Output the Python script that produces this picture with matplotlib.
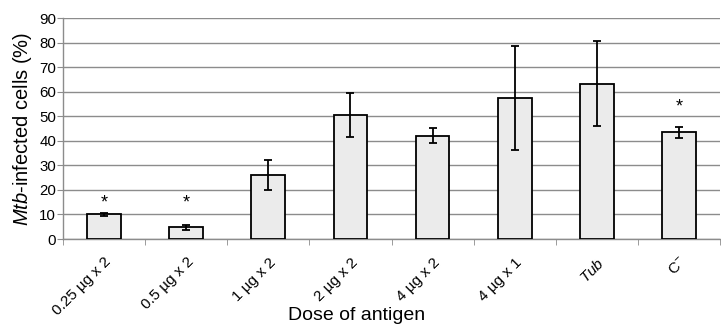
import matplotlib
matplotlib.use('Agg')

import matplotlib.pyplot as plt
import numpy as np

plt.rcParams['font.family'] = ['Liberation Sans', 'DejaVu Sans']
plt.rcParams['mathtext.fontset'] = 'custom'
plt.rcParams['mathtext.rm'] = 'Liberation Sans'
plt.rcParams['mathtext.it'] = 'Liberation Sans:italic'

# Dados
doses = ['0.25 µg x 2', '0.5 µg x 2', '1 µg x 2', '2 µg x 2',
         '4 µg x 2', '4 µg x 1', '$\\mathit{Tub}$', 'C$^{-}$']
infectadas = [10.0, 4.8, 26.2, 50.5, 42.1, 57.4, 63.3, 43.4]
erros = [0.5, 1.0, 6.1, 9.0, 3.0, 21.2, 17.3, 2.3]
significativo = [True, True, False, False, False, False, False, True]
pos_asterisco = [14.6, 14.6, None, None, None, None, None, 53.7]

fig = plt.figure(figsize=(7.21, 3.25), dpi=100)
ax = fig.add_axes([0.0874, 0.2646, 0.9112, 0.68])

x = np.arange(len(doses))
ax.bar(x, infectadas, 0.41, color='#ebebeb', edgecolor='black', linewidth=1.3,
       yerr=erros, capsize=3, error_kw=dict(elinewidth=1.3, capthick=1.3, ecolor='black'),
       zorder=3)

for xi, sig, ya in zip(x, significativo, pos_asterisco):
    if sig:
        ax.text(xi, ya, '*', ha='center', va='center', fontsize=13, zorder=4)

ax.set_xlim(-0.5, len(doses) - 0.5)
ax.set_ylim(0, 90)
ax.set_yticks(np.arange(0, 91, 10))
ax.yaxis.grid(True, color='#8c8c8c', linewidth=1.0, zorder=0)

# Rótulos do eixo x (inclinados, ancorados no canto superior direito)
ax.set_xticks(x)
ax.set_xticklabels(doses, rotation=45, ha='right', va='top',
                   rotation_mode='anchor', fontsize=11)
ax.tick_params(axis='x', length=0, pad=11.5)
ax.set_xticks(np.arange(-0.5, len(doses), 1.0), minor=True)
ax.tick_params(axis='x', which='minor', length=4, color='#8c8c8c', direction='out')
ax.tick_params(axis='y', length=4, color='#8c8c8c', labelsize=10.8, pad=1)

for lado in ['top', 'right']:
    ax.spines[lado].set_visible(False)
for lado in ['left', 'bottom']:
    ax.spines[lado].set_color('#8c8c8c')
    ax.spines[lado].set_linewidth(1.0)

ax.set_ylabel('$\\mathit{Mtb}$-infected cells (%)', fontsize=14.5, labelpad=4)
fig.text(0.4945, 0.016, 'Dose of antigen', fontsize=14, ha='center', va='baseline')

plt.savefig('out.png', dpi=100)
plt.close()
